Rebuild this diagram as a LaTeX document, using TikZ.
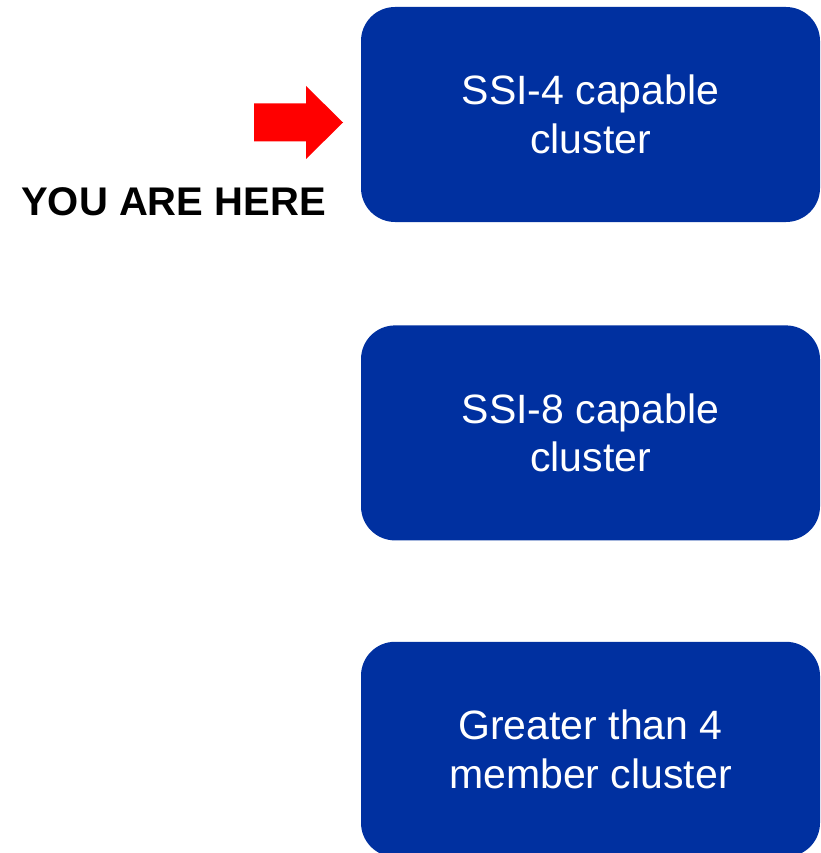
\documentclass[tikz,border=0pt]{standalone}
\usepackage{fontspec}
\setmainfont{Liberation Sans}
\usepackage{tikz}
\usetikzlibrary{positioning, calc}
\definecolor{clusterblue}{RGB}{0,48,160}
\definecolor{herered}{RGB}{255,0,0}
\tikzset{
    clusterbox/.style={rectangle, rounded corners=34pt, fill=clusterblue, draw=none,
      text=white, align=center, minimum width=459pt, minimum height=215pt,
      inner sep=0pt, font=\fontsize{41}{48.5}\selectfont},
    herelabel/.style={font=\fontsize{40}{46}\selectfont\bfseries, inner sep=0pt},
}

\begin{document}
\begin{tikzpicture}[x=1pt, y=-1pt]
    \useasboundingbox (0,0) rectangle (820,853);

    \node[clusterbox] (ssi4) at (590.5,114.5) {SSI-4 capable\\cluster};
    \node[clusterbox, below=103pt of ssi4] (ssi8) {SSI-8 capable\\cluster};
    \node[clusterbox, below=101pt of ssi8] (big) {Greater than 4\\member cluster};

    \node[herelabel] (here) at (173.5,202) {YOU ARE HERE};

    % pointer to the current stage
    \coordinate (tip) at (343,122.5);
    \fill[herered] (tip) -- ++(-37,-36.5) -- ++(0,17.5) -- ++(-52,0)
      -- ++(0,38) -- ++(52,0) -- ++(0,17.5) -- cycle;
\end{tikzpicture}
\end{document}
